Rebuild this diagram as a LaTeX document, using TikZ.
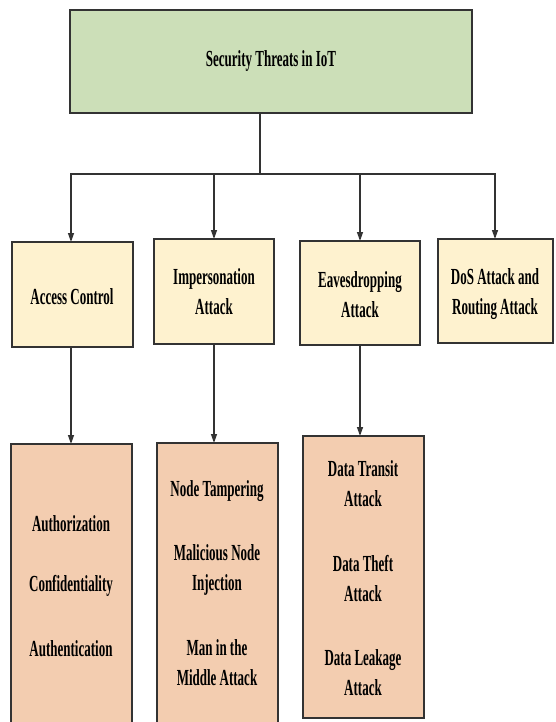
\documentclass[tikz,border=0pt]{standalone}
\usepackage{fontspec}
\newfontfamily\boxfont{Liberation Serif}[FakeStretch=0.565]
\usetikzlibrary{arrows.meta}

\definecolor{rootfill}{HTML}{CCDFB8}
\definecolor{catfill}{HTML}{FEF2CF}
\definecolor{itemfill}{HTML}{F3CDB0}
\definecolor{edge}{HTML}{333333}

\tikzset{
  box/.style={draw=edge, line width=1.7pt, inner sep=0pt},
  rootbox/.style={box, fill=rootfill},
  catbox/.style={box, fill=catfill},
  itembox/.style={box, fill=itemfill},
  lbl/.style={font=\boxfont\bfseries\fontsize{23}{30}\selectfont, align=center, text=black, inner sep=0pt},
  link/.style={draw=edge, line width=1.3pt},
  arr/.style={link, -{Triangle[length=9pt,width=6pt]}}
}

\begin{document}
\begin{tikzpicture}[x=1pt, y=-1pt]
  \clip (0,0) rectangle (555,722);
  \fill[white] (0,0) rectangle (555,722);

  % root
  \draw[rootbox] (70,10) rectangle (472,113);
  \node[lbl] (root) at (271,61) {Security Threats in IoT};
  \coordinate (rootS) at (260,113);

  % category boxes
  \draw[catbox] (12,242) rectangle (133,347);
  \node[lbl] (ac) at (72,297) {Access Control};
  \coordinate (acN) at (71,242);
  \coordinate (acS) at (71,347);

  \draw[catbox] (154,239) rectangle (274,344);
  \node[lbl] (imp) at (214,292) {Impersonation\\Attack};
  \coordinate (impN) at (214,239);
  \coordinate (impS) at (214,344);

  \draw[catbox] (300,241) rectangle (420,345);
  \node[lbl] (eav) at (360,295) {Eavesdropping\\Attack};
  \coordinate (eavN) at (360,241);
  \coordinate (eavS) at (360,345);

  \draw[catbox] (438,239) rectangle (553,343);
  \node[lbl] (dos) at (495,294) {DoS Attack and\\Routing Attack};
  \coordinate (dosN) at (495,239);

  % item boxes
  \draw[itembox] (11,444) rectangle (132,740);
  \coordinate (itAN) at (71,444);
  \node[lbl] (auz) at (71,524) {Authorization};
  \node[lbl] (con) at (71,586) {Confidentiality};
  \node[lbl] (aun) at (71,649) {Authentication};

  \draw[itembox] (157,443) rectangle (278,740);
  \coordinate (itBN) at (214,443);
  \node[lbl] (tamp) at (217,491) {Node Tampering};
  \node[lbl] (mal) at (217,570) {Malicious Node\\Injection};
  \node[lbl] (mitm) at (217,663) {Man in the\\Middle Attack};

  \draw[itembox] (303,436) rectangle (424,718);
  \coordinate (itCN) at (360,436);
  \node[lbl] (transit) at (363,484) {Data Transit\\Attack};
  \node[lbl] (theft) at (363,579) {Data Theft\\Attack};
  \node[lbl] (leak) at (363,673) {Data Leakage\\Attack};

  % connectors
  \coordinate (bus) at (260,174);
  \draw[link] (rootS) -- (bus);
  \draw[arr] (bus) -| (acN);
  \draw[arr] (bus) -| (impN);
  \draw[arr] (bus) -| (eavN);
  \draw[arr] (bus) -| (dosN);
  \draw[arr] (acS) -- (itAN);
  \draw[arr] (impS) -- (itBN);
  \draw[arr] (eavS) -- (itCN);
\end{tikzpicture}
\end{document}
